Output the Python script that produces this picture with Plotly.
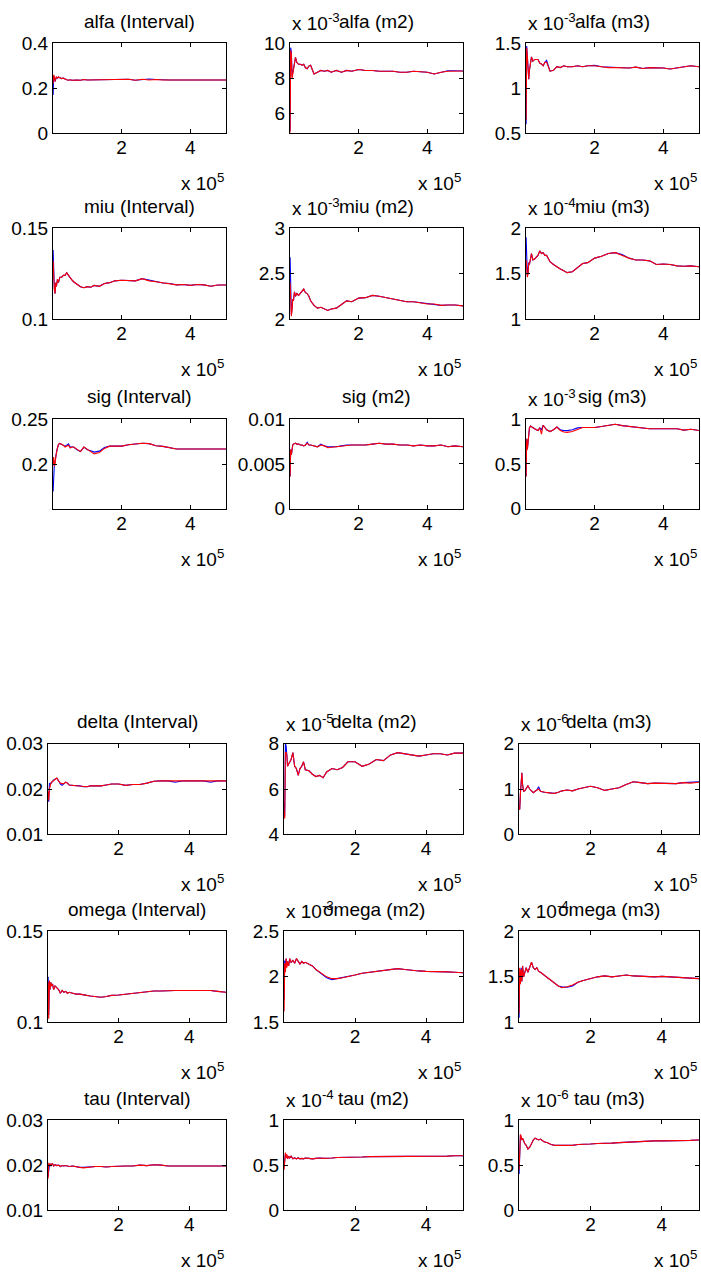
import numpy as np
import plotly.graph_objects as go

W, H = 701, 1278
FONT = "Liberation Sans, Arial, Helvetica, sans-serif"
FS = 19

# sample positions (iteration count, in units of 1e5)
x_steps = [0.003, 0.02, 0.04, 0.06, 0.08,
           0.10, 0.13, 0.16, 0.20, 0.25,
           0.30, 0.35, 0.40, 0.45, 0.50,
           0.55, 0.60, 0.70, 0.80, 0.90,
           1.00, 1.10, 1.20, 1.35, 1.50,
           1.65, 1.80, 2.00, 2.20, 2.40,
           2.60, 2.80, 3.00, 3.20, 3.40,
           3.60, 3.80, 4.00, 4.20, 4.40,
           4.60, 4.80, 5.04]

# ---- alfa ----
alfa_int_red = [0.22, 0.26, 0.25, 0.23, 0.245,
                0.25, 0.245, 0.25, 0.247, 0.243,
                0.245, 0.24, 0.238, 0.236, 0.238,
                0.236, 0.237, 0.237, 0.236, 0.239,
                0.237, 0.237, 0.237, 0.237, 0.237,
                0.237, 0.238, 0.240, 0.240, 0.236,
                0.240, 0.237, 0.239, 0.237, 0.237,
                0.237, 0.237, 0.237, 0.237, 0.237,
                0.237, 0.237, 0.237]
alfa_int_blue = [0.17, 0.255, 0.25, 0.23, 0.245,
                 0.25, 0.245, 0.25, 0.247, 0.243,
                 0.245, 0.24, 0.238, 0.236, 0.238,
                 0.236, 0.237, 0.237, 0.236, 0.239,
                 0.237, 0.237, 0.237, 0.237, 0.237,
                 0.237, 0.240, 0.240, 0.240, 0.236,
                 0.240, 0.241, 0.239, 0.237, 0.237,
                 0.237, 0.237, 0.237, 0.237, 0.237,
                 0.237, 0.237, 0.237]
alfa_m2_red = [4.9, 9.6, 9.4, 8.0, 8.3,
               8.6, 9.0, 9.2, 8.9, 8.8,
               8.8, 8.75, 8.8, 8.6, 8.55,
               8.7, 8.75, 8.25, 8.35, 8.45,
               8.4, 8.45, 8.35, 8.45, 8.35,
               8.45, 8.4, 8.5, 8.45, 8.45,
               8.4, 8.4, 8.4, 8.35, 8.35,
               8.4, 8.38, 8.35, 8.25, 8.35,
               8.4, 8.42, 8.42]
alfa_m2_blue = [5.0, 9.75, 9.5, 8.1, 8.3,
                8.6, 9.0, 9.2, 8.9, 8.8,
                8.8, 8.75, 8.8, 8.6, 8.55,
                8.7, 8.75, 8.25, 8.35, 8.45,
                8.4, 8.45, 8.35, 8.45, 8.35,
                8.45, 8.4, 8.5, 8.45, 8.45,
                8.4, 8.4, 8.4, 8.35, 8.35,
                8.4, 8.38, 8.35, 8.25, 8.35,
                8.43, 8.43, 8.42]
alfa_m3_red = [0.65, 1.45, 1.35, 1.15, 1.1,
               1.2, 1.3, 1.35, 1.3, 1.32,
               1.32, 1.32, 1.28, 1.27, 1.25,
               1.29, 1.29, 1.19, 1.2, 1.24,
               1.23, 1.25, 1.24, 1.24, 1.25,
               1.24, 1.25, 1.25, 1.24, 1.23,
               1.23, 1.23, 1.225, 1.235, 1.22,
               1.23, 1.23, 1.225, 1.215, 1.225,
               1.235, 1.25, 1.24]
alfa_m3_blue = [0.6, 1.47, 1.35, 1.15, 1.1,
                1.2, 1.3, 1.35, 1.3, 1.32,
                1.32, 1.32, 1.28, 1.27, 1.25,
                1.29, 1.31, 1.19, 1.2, 1.24,
                1.23, 1.25, 1.24, 1.24, 1.25,
                1.24, 1.25, 1.255, 1.24, 1.235,
                1.23, 1.23, 1.225, 1.235, 1.22,
                1.23, 1.23, 1.225, 1.215, 1.225,
                1.235, 1.25, 1.24]

# ---- miu ----
miu_int_red = [0.132, 0.122, 0.116, 0.114, 0.12,
               0.118, 0.122, 0.12, 0.123, 0.123,
               0.124, 0.124, 0.1255, 0.124, 0.1225,
               0.1215, 0.1205, 0.119, 0.1178, 0.1172,
               0.1178, 0.1175, 0.1185, 0.118, 0.1195,
               0.12, 0.121, 0.1213, 0.1213, 0.121,
               0.1222, 0.121, 0.1205, 0.1198, 0.1195,
               0.1188, 0.119, 0.1185, 0.119, 0.1188,
               0.118, 0.1187, 0.1187]
miu_int_blue = [0.138, 0.124, 0.117, 0.114, 0.12,
                0.118, 0.122, 0.12, 0.123, 0.123,
                0.124, 0.124, 0.1255, 0.124, 0.1225,
                0.1215, 0.1205, 0.119, 0.1178, 0.1172,
                0.1178, 0.1175, 0.1185, 0.118, 0.1195,
                0.12, 0.121, 0.1213, 0.1213, 0.121,
                0.1222, 0.1213, 0.1205, 0.1198, 0.1195,
                0.1188, 0.119, 0.1185, 0.119, 0.1188,
                0.118, 0.1187, 0.1187]
miu_m2_red = [2.4, 2.15, 2.03, 2.1, 2.22,
              2.2, 2.3, 2.25, 2.28, 2.26,
              2.28, 2.3, 2.33, 2.29, 2.28,
              2.25, 2.2, 2.15, 2.12, 2.13,
              2.11, 2.095, 2.11, 2.12, 2.16,
              2.2, 2.19, 2.23, 2.235, 2.26,
              2.25, 2.235, 2.22, 2.2, 2.19,
              2.19, 2.18, 2.165, 2.165, 2.15,
              2.155, 2.155, 2.145]
miu_m2_blue = [2.68, 2.25, 2.05, 2.12, 2.22,
               2.2, 2.3, 2.25, 2.28, 2.26,
               2.28, 2.3, 2.33, 2.29, 2.28,
               2.25, 2.2, 2.15, 2.12, 2.13,
               2.11, 2.095, 2.11, 2.12, 2.16,
               2.2, 2.19, 2.23, 2.235, 2.26,
               2.25, 2.235, 2.22, 2.2, 2.19,
               2.19, 2.18, 2.17, 2.165, 2.15,
               2.155, 2.155, 2.145]
miu_m3_red = [1.65, 1.55, 1.46, 1.5, 1.62,
              1.6, 1.68, 1.72, 1.65, 1.66,
              1.68, 1.7, 1.75, 1.72, 1.73,
              1.7, 1.7, 1.63, 1.6, 1.57,
              1.55, 1.53, 1.51, 1.52, 1.57,
              1.61, 1.62, 1.67, 1.69, 1.72,
              1.73, 1.7, 1.67, 1.65, 1.65,
              1.64, 1.6, 1.605, 1.6, 1.585,
              1.58, 1.585, 1.575]
miu_m3_blue = [1.9, 1.6, 1.48, 1.52, 1.62,
               1.6, 1.68, 1.72, 1.65, 1.66,
               1.68, 1.7, 1.75, 1.72, 1.73,
               1.7, 1.7, 1.63, 1.6, 1.57,
               1.55, 1.53, 1.51, 1.52, 1.57,
               1.61, 1.62, 1.67, 1.69, 1.72,
               1.73, 1.71, 1.67, 1.65, 1.65,
               1.64, 1.6, 1.605, 1.6, 1.585,
               1.58, 1.585, 1.575]

# ---- sig ----
sig_int_red = [0.2, 0.208, 0.198, 0.2, 0.208,
               0.213, 0.218, 0.222, 0.223, 0.222,
               0.221, 0.219, 0.22, 0.221, 0.218,
               0.219, 0.219, 0.216, 0.214, 0.219,
               0.216, 0.214, 0.2115, 0.213, 0.2175,
               0.22, 0.22, 0.22, 0.2215, 0.222,
               0.2232, 0.2228, 0.2205, 0.2198, 0.218,
               0.2168, 0.2168, 0.2168, 0.2168, 0.2168,
               0.2162, 0.2168, 0.2168]
sig_int_blue = [0.17, 0.2, 0.2, 0.203, 0.21,
                0.213, 0.218, 0.222, 0.223, 0.222,
                0.221, 0.22, 0.221, 0.2225, 0.219,
                0.219, 0.219, 0.216, 0.214, 0.219,
                0.216, 0.215, 0.2135, 0.2145, 0.2185,
                0.22, 0.22, 0.22, 0.2215, 0.222,
                0.2232, 0.2228, 0.2205, 0.2198, 0.218,
                0.2168, 0.2168, 0.2168, 0.2168, 0.2168,
                0.2162, 0.2168, 0.2168]
sig_m2_red = [0.0036, 0.0066, 0.006, 0.0068, 0.0071,
              0.0072, 0.0073, 0.0073, 0.0072, 0.0072,
              0.0071, 0.0071, 0.007, 0.0071, 0.0073,
              0.0071, 0.0071, 0.007, 0.0069, 0.0071,
              0.007, 0.0068, 0.00685, 0.0069, 0.007,
              0.0071, 0.0071, 0.0071, 0.0071, 0.0072,
              0.0073, 0.0072, 0.0072, 0.0071, 0.0071,
              0.007, 0.0071, 0.007, 0.007, 0.0071,
              0.0069, 0.007, 0.0069]
sig_m2_blue = [0.0036, 0.0066, 0.006, 0.0068, 0.0071,
               0.0072, 0.0073, 0.0073, 0.0072, 0.0072,
               0.0071, 0.0071, 0.007, 0.0071, 0.0074,
               0.0071, 0.0071, 0.007, 0.0069, 0.0072,
               0.007, 0.0069, 0.0069, 0.0069, 0.007,
               0.0071, 0.0071, 0.0071, 0.0071, 0.0072,
               0.0073, 0.0072, 0.0072, 0.0071, 0.0071,
               0.007, 0.0071, 0.007, 0.007, 0.0071,
               0.0069, 0.007, 0.0069]
sig_m3_red = [0.36, 0.78, 0.66, 0.78, 0.85,
              0.9, 0.92, 0.91, 0.9, 0.89,
              0.88, 0.87, 0.9, 0.83, 0.93,
              0.9, 0.88, 0.86, 0.88, 0.91,
              0.87, 0.855, 0.85, 0.86, 0.88,
              0.905, 0.905, 0.905, 0.915, 0.925,
              0.94, 0.925, 0.915, 0.91, 0.895,
              0.89, 0.89, 0.89, 0.89, 0.89,
              0.875, 0.885, 0.872]
sig_m3_blue = [0.36, 0.78, 0.66, 0.78, 0.85,
               0.9, 0.92, 0.91, 0.9, 0.89,
               0.88, 0.87, 0.9, 0.88, 0.93,
               0.9, 0.88, 0.86, 0.88, 0.91,
               0.88, 0.87, 0.87, 0.88, 0.9,
               0.905, 0.905, 0.905, 0.915, 0.925,
               0.94, 0.925, 0.915, 0.91, 0.895,
               0.89, 0.89, 0.89, 0.89, 0.89,
               0.875, 0.885, 0.872]

# ---- delta ----
delta_int_red = [0.0195, 0.0175, 0.02, 0.021, 0.0212,
                 0.0215, 0.0217, 0.022, 0.0222, 0.0224,
                 0.0218, 0.0213, 0.0212, 0.0212, 0.0215,
                 0.0213, 0.0209, 0.0208, 0.0208, 0.0207,
                 0.0205, 0.0205, 0.0207, 0.0207, 0.0207,
                 0.0209, 0.0211, 0.0211, 0.0208, 0.021,
                 0.021, 0.0213, 0.0217, 0.0218, 0.0218,
                 0.0218, 0.0218, 0.0218, 0.0218, 0.0218,
                 0.0217, 0.0218, 0.0218]
delta_int_blue = [0.018, 0.0172, 0.0212, 0.0213, 0.0212,
                  0.0215, 0.0217, 0.022, 0.0222, 0.0224,
                  0.0218, 0.0211, 0.0208, 0.0212, 0.0215,
                  0.0213, 0.0209, 0.0208, 0.0208, 0.0207,
                  0.0205, 0.0205, 0.0207, 0.0207, 0.0207,
                  0.0209, 0.0211, 0.0211, 0.0208, 0.021,
                  0.021, 0.0213, 0.0217, 0.0218, 0.0218,
                  0.0215, 0.0218, 0.0218, 0.0218, 0.0218,
                  0.0215, 0.0218, 0.0218]
delta_m2_red = [5.0, 4.7, 7.6, 7.6, 7.5,
                7.0, 7.1, 7.2, 7.3, 7.6,
                7.0, 6.9, 6.6, 6.9, 7.0,
                7.2, 6.85, 6.8, 6.65, 6.55,
                6.6, 6.5, 6.75, 6.9, 6.85,
                6.95, 7.2, 7.2, 7.0, 7.1,
                7.3, 7.25, 7.5, 7.6, 7.55,
                7.5, 7.45, 7.5, 7.55, 7.55,
                7.5, 7.58, 7.58]
delta_m2_blue = [5.4, 4.8, 8.0, 7.9, 7.5,
                 7.0, 7.1, 7.2, 7.3, 7.6,
                 7.0, 6.9, 6.6, 6.9, 7.0,
                 7.2, 6.85, 6.8, 6.65, 6.55,
                 6.6, 6.5, 6.75, 6.9, 6.85,
                 6.95, 7.2, 7.2, 7.0, 7.1,
                 7.3, 7.25, 7.5, 7.6, 7.55,
                 7.5, 7.45, 7.5, 7.55, 7.55,
                 7.5, 7.58, 7.58]
delta_m3_red = [0.6, 0.55, 0.9, 1.2, 1.36,
                1.1, 0.95, 0.96, 1.0, 1.07,
                1.0, 0.97, 0.92, 0.95, 0.98,
                1.0, 0.95, 0.93, 0.92, 0.91,
                0.905, 0.93, 0.96, 0.98, 0.96,
                1.0, 1.03, 1.06, 1.03, 0.97,
                1.0, 1.03, 1.1, 1.16, 1.14,
                1.12, 1.13, 1.13, 1.13, 1.12,
                1.14, 1.13, 1.15]
delta_m3_blue = [0.6, 0.55, 0.9, 1.2, 1.36,
                 1.1, 0.95, 0.96, 1.0, 1.07,
                 1.0, 0.97, 0.92, 0.95, 0.98,
                 1.05, 0.95, 0.93, 0.92, 0.91,
                 0.905, 0.93, 0.96, 0.98, 0.96,
                 1.0, 1.03, 1.06, 1.03, 0.97,
                 1.0, 1.03, 1.1, 1.16, 1.14,
                 1.12, 1.13, 1.13, 1.13, 1.12,
                 1.14, 1.15, 1.16]

# ---- omega ----
omega_int_red = [0.122, 0.102, 0.123, 0.118, 0.122,
                 0.12, 0.121, 0.118, 0.12, 0.119,
                 0.118, 0.116, 0.1175, 0.1165, 0.117,
                 0.116, 0.1165, 0.116, 0.1155, 0.1155,
                 0.115, 0.1148, 0.1145, 0.114, 0.1138,
                 0.1142, 0.1148, 0.115, 0.1155, 0.116,
                 0.1165, 0.117, 0.1172, 0.1172, 0.1175,
                 0.1175, 0.1175, 0.1175, 0.1175, 0.1175,
                 0.1175, 0.117, 0.1165]
omega_int_blue = [0.125, 0.104, 0.122, 0.118, 0.122,
                  0.12, 0.121, 0.118, 0.12, 0.119,
                  0.118, 0.116, 0.1175, 0.1165, 0.117,
                  0.116, 0.1165, 0.116, 0.1155, 0.1155,
                  0.115, 0.1148, 0.1145, 0.114, 0.1138,
                  0.1142, 0.1148, 0.115, 0.1155, 0.116,
                  0.1165, 0.117, 0.1172, 0.1172, 0.1175,
                  0.1175, 0.1175, 0.1175, 0.1175, 0.1175,
                  0.1175, 0.117, 0.1165]
omega_m2_red = [1.62, 2.15, 2.05, 2.2, 2.1,
                2.17, 2.12, 2.2, 2.16, 2.18,
                2.15, 2.2, 2.17, 2.14, 2.17,
                2.15, 2.16, 2.14, 2.12, 2.08,
                2.05, 2.02, 2.0, 1.98, 1.98,
                1.99, 2.0, 2.02, 2.04, 2.05,
                2.06, 2.07, 2.08, 2.09, 2.08,
                2.07, 2.065, 2.06, 2.06, 2.06,
                2.055, 2.05, 2.045]
omega_m2_blue = [1.75, 2.18, 2.08, 2.2, 2.12,
                 2.17, 2.12, 2.2, 2.16, 2.18,
                 2.15, 2.2, 2.17, 2.14, 2.17,
                 2.15, 2.16, 2.14, 2.12, 2.08,
                 2.05, 2.02, 1.99, 1.97, 1.98,
                 1.99, 2.0, 2.02, 2.04, 2.05,
                 2.06, 2.07, 2.08, 2.09, 2.08,
                 2.07, 2.065, 2.06, 2.06, 2.06,
                 2.055, 2.05, 2.045]
omega_m3_red = [1.1, 1.6, 1.42, 1.58, 1.45,
                1.62, 1.5, 1.55, 1.6, 1.55,
                1.62, 1.66, 1.6, 1.58, 1.6,
                1.56, 1.55, 1.52, 1.48, 1.45,
                1.42, 1.4, 1.38, 1.39, 1.41,
                1.44, 1.46, 1.48, 1.5, 1.51,
                1.5, 1.51, 1.52, 1.51, 1.505,
                1.5, 1.5, 1.505, 1.5, 1.5,
                1.49, 1.49, 1.48]
omega_m3_blue = [1.05, 1.55, 1.45, 1.6, 1.45,
                 1.62, 1.5, 1.55, 1.6, 1.55,
                 1.62, 1.66, 1.6, 1.58, 1.6,
                 1.56, 1.55, 1.52, 1.48, 1.45,
                 1.42, 1.4, 1.39, 1.385, 1.4,
                 1.44, 1.46, 1.48, 1.5, 1.51,
                 1.5, 1.51, 1.52, 1.51, 1.505,
                 1.5, 1.5, 1.505, 1.5, 1.5,
                 1.49, 1.49, 1.48]

# ---- tau ----
tau_int_red = [0.017, 0.0205, 0.02, 0.0203, 0.0198,
               0.0202, 0.0203, 0.0198, 0.0201, 0.0199,
               0.02, 0.0197, 0.0199, 0.0198, 0.0199,
               0.0198, 0.0197, 0.0198, 0.0196, 0.0195,
               0.0194, 0.0195, 0.0195, 0.0197, 0.0197,
               0.0196, 0.0197, 0.0198, 0.0198, 0.0198,
               0.02, 0.0199, 0.0201, 0.02, 0.0198,
               0.0198, 0.0198, 0.0198, 0.0198, 0.0198,
               0.0198, 0.0197, 0.0198]
tau_int_blue = [0.0175, 0.02, 0.02, 0.0203, 0.0198,
                0.0202, 0.0203, 0.0198, 0.0201, 0.0199,
                0.02, 0.0197, 0.0199, 0.0198, 0.0199,
                0.0198, 0.0197, 0.0198, 0.0196, 0.0195,
                0.0195, 0.0196, 0.0196, 0.0197, 0.0197,
                0.0196, 0.0197, 0.0198, 0.0198, 0.0198,
                0.02, 0.0199, 0.0201, 0.02, 0.0198,
                0.0198, 0.0198, 0.0198, 0.0198, 0.0198,
                0.0198, 0.0197, 0.0198]
tau_m2_red = [0.45, 0.6, 0.64, 0.58, 0.62,
              0.57, 0.6, 0.58, 0.6, 0.57,
              0.58, 0.57, 0.58, 0.57, 0.575,
              0.57, 0.58, 0.575, 0.57, 0.575,
              0.58, 0.575, 0.58, 0.58, 0.585,
              0.585, 0.59, 0.59, 0.59, 0.595,
              0.595, 0.6, 0.6, 0.6, 0.6,
              0.6, 0.6, 0.6, 0.6, 0.6,
              0.6, 0.605, 0.605]
tau_m2_blue = [0.48, 0.62, 0.63, 0.58, 0.61,
               0.57, 0.6, 0.58, 0.6, 0.57,
               0.58, 0.57, 0.58, 0.57, 0.575,
               0.57, 0.58, 0.575, 0.57, 0.575,
               0.58, 0.575, 0.58, 0.58, 0.585,
               0.585, 0.59, 0.59, 0.59, 0.595,
               0.595, 0.6, 0.6, 0.6, 0.6,
               0.6, 0.6, 0.6, 0.6, 0.6,
               0.6, 0.605, 0.605]
tau_m3_red = [0.45, 0.7, 0.84, 0.82, 0.78,
              0.8, 0.76, 0.74, 0.72, 0.68,
              0.7, 0.74, 0.78, 0.8, 0.79,
              0.78, 0.79, 0.76, 0.75, 0.73,
              0.72, 0.72, 0.725, 0.72, 0.72,
              0.73, 0.73, 0.735, 0.74, 0.74,
              0.745, 0.75, 0.755, 0.76, 0.765,
              0.77, 0.77, 0.77, 0.77, 0.775,
              0.775, 0.775, 0.78]
tau_m3_blue = [0.4, 0.72, 0.84, 0.8, 0.78,
               0.8, 0.76, 0.74, 0.72, 0.68,
               0.7, 0.74, 0.78, 0.8, 0.79,
               0.78, 0.79, 0.76, 0.75, 0.73,
               0.72, 0.72, 0.725, 0.72, 0.72,
               0.73, 0.73, 0.735, 0.74, 0.74,
               0.745, 0.75, 0.755, 0.76, 0.765,
               0.77, 0.77, 0.77, 0.77, 0.775,
               0.775, 0.775, 0.78]

# panel titles, row by row
titles = ["alfa (Interval)", "alfa (m2)", "alfa (m3)",
          "miu (Interval)", "miu (m2)", "miu (m3)",
          "sig (Interval)", "sig (m2)", "sig (m3)",
          "delta (Interval)", "delta (m2)", "delta (m3)",
          "omega (Interval)", "omega (m2)", "omega (m3)",
          "tau (Interval)", "tau (m2)", "tau (m3)"]
red_series = [alfa_int_red, alfa_m2_red, alfa_m3_red,
              miu_int_red, miu_m2_red, miu_m3_red,
              sig_int_red, sig_m2_red, sig_m3_red,
              delta_int_red, delta_m2_red, delta_m3_red,
              omega_int_red, omega_m2_red, omega_m3_red,
              tau_int_red, tau_m2_red, tau_m3_red]
blue_series = [alfa_int_blue, alfa_m2_blue, alfa_m3_blue,
               miu_int_blue, miu_m2_blue, miu_m3_blue,
               sig_int_blue, sig_m2_blue, sig_m3_blue,
               delta_int_blue, delta_m2_blue, delta_m3_blue,
               omega_int_blue, omega_m2_blue, omega_m3_blue,
               tau_int_blue, tau_m2_blue, tau_m3_blue]
# power of ten used for each panel's y tick labels
y_exponents = [0, -3, -3,
               0, -3, -4,
               0, 0, -3,
               0, -5, -6,
               0, -3, -4,
               0, -4, -6]
# y limits in scaled units
y_limits = [(0, 0.4), (4.86, 10), (0.5, 1.5),
            (0.1, 0.15), (2, 3), (1, 2),
            (0.151, 0.25), (0, 0.01), (0, 1),
            (0.01, 0.03), (4, 8), (0, 2),
            (0.1, 0.15), (1.5, 2.5), (1, 2),
            (0.01, 0.03), (0, 1), (0, 1)]
y_tick_labels = [["0", "0.2", "0.4"], ["6", "8", "10"], ["0.5", "1", "1.5"],
                 ["0.1", "0.15"], ["2", "2.5", "3"], ["1", "1.5", "2"],
                 ["0.2", "0.25"], ["0", "0.005", "0.01"], ["0", "0.5", "1"],
                 ["0.01", "0.02", "0.03"], ["4", "6", "8"], ["0", "1", "2"],
                 ["0.1", "0.15"], ["1.5", "2", "2.5"], ["1", "1.5", "2"],
                 ["0.01", "0.02", "0.03"], ["0", "0.5", "1"], ["0", "0.5", "1"]]
x_tick_labels = ["2", "4"]
x_limit = 5.04

# axes boxes in screen pixels (two stacked figures with slightly different margins)
col_left_top = [53, 290, 526]
col_left_bottom = [48, 284, 519]
col_right = [226, 463, 699]
row_top = [42, 227, 418, 743, 931, 1120]
row_bottom = [132, 318, 508, 834, 1022, 1210]

# the page adds a small top offset and a slight vertical squeeze; undo it
PAGE_OFFSET, PAGE_SCALE = 8.65, 0.9846


def paper_y(py):
    return 1 - (py - PAGE_OFFSET) / PAGE_SCALE / H


fig = go.Figure()
layout = {}
annotations = []
x_vals = np.array(x_steps) * 1e5

for i in range(18):
    r, c = divmod(i, 3)
    left = (col_left_top if r < 3 else col_left_bottom)[c]
    right = col_right[c]
    top, bottom = row_top[r], row_bottom[r]
    scale = 10.0 ** y_exponents[i]
    n = "" if i == 0 else str(i + 1)
    xa, ya = "x" + n, "y" + n

    for series, color in ((blue_series[i], "#0000ff"), (red_series[i], "#ff0000")):
        fig.add_trace(go.Scatter(
            x=x_vals, y=np.array(series) * scale, mode="lines",
            line=dict(color=color, width=1.1), xaxis=xa, yaxis=ya,
            showlegend=False, hoverinfo="skip"))

    tick_text = y_tick_labels[i]
    tick_vals = [float(t) * scale for t in tick_text]
    common = dict(showline=True, mirror="ticks", linecolor="black", linewidth=1,
                  ticks="inside", ticklen=4, tickwidth=1, tickcolor="black",
                  showgrid=False, zeroline=False,
                  tickfont=dict(family=FONT, size=FS, color="black"))
    layout["xaxis" + n] = dict(
        domain=[left / W, right / W], anchor=ya, range=[0, x_limit * 1e5],
        tickmode="array", tickvals=[float(t) * 1e5 for t in x_tick_labels],
        ticktext=x_tick_labels, ticklabelstandoff=-3, **common)
    layout["yaxis" + n] = dict(
        domain=[paper_y(bottom), paper_y(top)], anchor=xa,
        range=[y_limits[i][0] * scale, y_limits[i][1] * scale],
        tickmode="array", tickvals=tick_vals, ticktext=tick_text, **common)

    annotations.append(dict(
        text=titles[i], xref="paper", yref="paper", x=(left + right) / 2 / W,
        y=paper_y(top - 22), xanchor="center", yanchor="middle", showarrow=False,
        font=dict(family=FONT, size=FS, color="black")))
    if y_exponents[i] != 0:
        annotations.append(dict(
            text="x 10<sup>%d</sup>" % y_exponents[i], xref="paper", yref="paper",
            x=left / W, y=paper_y(top - 7), xanchor="left", yanchor="bottom",
            showarrow=False, font=dict(family=FONT, size=FS, color="black")))
    annotations.append(dict(
        text="x 10<sup>5</sup>", xref="paper", yref="paper", x=right / W,
        y=paper_y(bottom + 63), xanchor="right", yanchor="bottom", showarrow=False,
        font=dict(family=FONT, size=FS, color="black")))

fig.update_layout(
    width=W, height=H, margin=dict(l=0, r=0, t=0, b=0),
    paper_bgcolor="white", plot_bgcolor="white",
    font=dict(family=FONT, size=FS, color="black"),
    annotations=annotations, **layout)

fig.write_html("out.html", config={"displayModeBar": False})
